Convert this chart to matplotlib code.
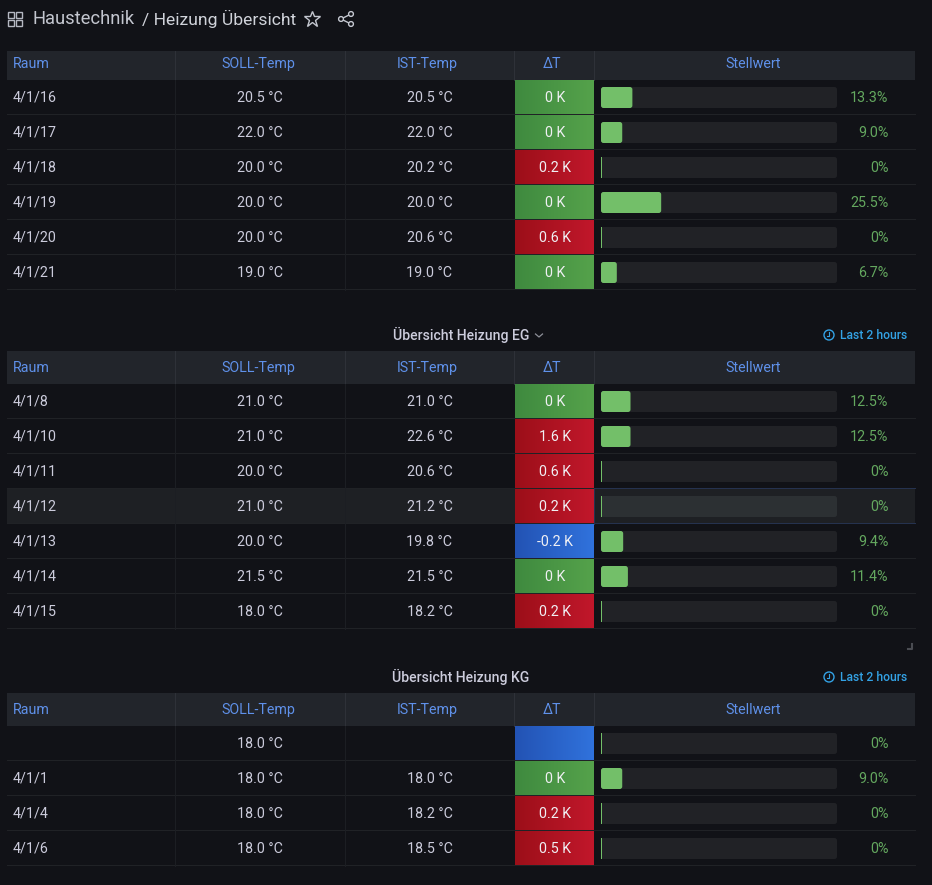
import numpy as np
import matplotlib
matplotlib.use("Agg")
import matplotlib.pyplot as plt
from matplotlib.colors import LinearSegmentedColormap
from matplotlib.patches import Rectangle, FancyBboxPatch, Circle

plt.rcParams['font.family'] = ['Roboto', 'DejaVu Sans']

# table data
columns = ["Raum", "SOLL-Temp", "IST-Temp", "ΔT", "Stellwert"]

og_rooms = ["4/1/16", "4/1/17", "4/1/18", "4/1/19", "4/1/20", "4/1/21"]
og_soll = [20.5, 22.0, 20.0, 20.0, 20.0, 19.0]
og_ist = [20.5, 22.0, 20.2, 20.0, 20.6, 19.0]
og_delta = [0, 0, 0.2, 0, 0.6, 0]
og_stell = [13.3, 9.0, 0, 25.5, 0, 6.7]

eg_rooms = ["4/1/8", "4/1/10", "4/1/11", "4/1/12", "4/1/13", "4/1/14", "4/1/15"]
eg_soll = [21.0, 21.0, 20.0, 21.0, 20.0, 21.5, 18.0]
eg_ist = [21.0, 22.6, 20.6, 21.2, 19.8, 21.5, 18.2]
eg_delta = [0, 1.6, 0.6, 0.2, -0.2, 0, 0.2]
eg_stell = [12.5, 12.5, 0, 0, 9.4, 11.4, 0]

kg_rooms = ["", "4/1/1", "4/1/4", "4/1/6"]
kg_soll = [18.0, 18.0, 18.0, 18.0]
kg_ist = [None, 18.0, 18.2, 18.5]
kg_delta = [None, 0, 0.2, 0.5]
kg_stell = [0, 9.0, 0, 0]

BG = "#111217"
HEAD_BG = "#22252b"
HEAD_TXT = "#5f91ea"
TXT = "#ccccdc"
LINE = "#202226"
TRACK = "#212226"
BAR = "#73bf69"
PCT = "#64a85f"

col_x = [7, 175, 345, 514, 594, 915]
head_x = [258.5, 427.5, 552, 753]
BAR_X0, BAR_W = 601, 236
ROW_H = 35
FS = 10.3
PX = 0.72  # one pixel line

green = LinearSegmentedColormap.from_list("g", ["#3f8a3f", "#55a24b"])
red = LinearSegmentedColormap.from_list("r", ["#9c0f19", "#c1172b"])
blue = LinearSegmentedColormap.from_list("b", ["#2353b4", "#3072dc"])
ramp = np.linspace(0, 1, 80).reshape(1, -1)

fig = plt.figure(figsize=(9.32, 8.85), dpi=100, facecolor=BG)
ax = fig.add_axes([0, 0, 1, 1])
ax.set_xlim(0, 932)
ax.set_ylim(885, 0)
ax.axis("off")


def draw_table(top, head_h, head_dy, rooms, soll, ist, delta, stell, hover=None):
    # header
    ax.add_patch(Rectangle((col_x[0], top), col_x[-1] - col_x[0], head_h, fc=HEAD_BG, ec="none"))
    for x in col_x[1:-1]:
        ax.plot([x, x], [top, top + head_h], color="#2e3138", lw=PX)
    mid = top + head_dy
    ax.text(13, mid, columns[0], color=HEAD_TXT, fontsize=FS, va="center", ha="left")
    for i in range(1, 5):
        ax.text(head_x[i - 1], mid, columns[i], color=HEAD_TXT, fontsize=FS, va="center", ha="center")

    y0 = top + head_h
    for i, room in enumerate(rooms):
        y = y0 + i * ROW_H
        if i == hover:
            ax.add_patch(Rectangle((col_x[0], y), col_x[-1] - col_x[0], ROW_H, fc="#1e2024", ec="none"))
        ax.plot([col_x[0], col_x[-1]], [y + ROW_H - 1] * 2, color=LINE, lw=PX)
        for x in col_x[1:3]:
            ax.plot([x, x], [y, y + ROW_H], color="#1c1e23", lw=PX)

        c = y + ROW_H / 2 + 0.3
        ax.text(13, c, room, color=TXT, fontsize=FS, va="center", ha="left")
        ax.text((col_x[1] + col_x[2]) / 2, c, f"{soll[i]:.1f} °C", color=TXT, fontsize=FS, va="center", ha="center")
        if ist[i] is not None:
            ax.text((col_x[2] + col_x[3]) / 2, c, f"{ist[i]:.1f} °C", color=TXT, fontsize=FS, va="center", ha="center")

        # delta cell, colour by sign
        d = delta[i]
        cmap = blue if d is None or d < 0 else (green if d == 0 else red)
        ax.imshow(ramp, cmap=cmap, aspect="auto", extent=(col_x[3] + 1, col_x[4], y + ROW_H - 1, y),
                  vmin=0, vmax=1, zorder=2)
        if d is not None:
            label = "0 K" if d == 0 else f"{d:.1f} K"
            ax.text((col_x[3] + col_x[4]) / 2 + 1, c, label, color="#f0f0f4", fontsize=FS,
                    va="center", ha="center", zorder=3)

        # gauge
        track = "#2c3033" if i == hover else TRACK
        ax.add_patch(FancyBboxPatch((BAR_X0, y + 7), BAR_W, 21, boxstyle="round,pad=0,rounding_size=2.5",
                                    fc=track, ec="none", zorder=2))
        w = stell[i] / 100 * BAR_W
        if w > 0:
            ax.add_patch(FancyBboxPatch((BAR_X0, y + 7), w, 21, boxstyle="round,pad=0,rounding_size=2.5",
                                        fc=BAR, ec="none", zorder=3))
        else:
            ax.add_patch(Rectangle((BAR_X0, y + 7), 1, 21, fc=BAR, ec="none", zorder=3))
        pct = "0%" if stell[i] == 0 else f"{stell[i]:.1f}%"
        ax.text(888.5, c, pct, color=PCT, fontsize=FS, va="center", ha="right", zorder=3)

        if i == hover:
            ax.plot([col_x[4], col_x[5]], [y - 1] * 2, color="#25324f", lw=PX, zorder=4)
            ax.plot([col_x[4], col_x[5]], [y + ROW_H - 1] * 2, color="#25324f", lw=PX, zorder=4)
            ax.plot([col_x[4]] * 2, [y, y + ROW_H], color="#25324f", lw=PX, zorder=4)


def panel_title(text, y, tx=461):
    ax.text(tx, y, text, color="#ccccdc", fontsize=10.1, fontweight="medium", va="center", ha="center")


def last_hours(y):
    ax.add_patch(Circle((829, y), 5, fc="none", ec="#33a2e5", lw=1))
    ax.plot([829, 829, 826.5], [y - 3, y + 0.5, y + 0.5], color="#33a2e5", lw=0.8)
    ax.text(907, y + 0.5, "Last 2 hours", color="#33a2e5", fontsize=8.7, fontweight="medium", va="center", ha="right")


# top bar
for gx in (8, 16):
    for gy in (12, 20):
        ax.add_patch(Rectangle((gx, gy), 6, 6, fc="none", ec="#b5b8c2", lw=1))
ax.text(32, 19.3, "Haustechnik", color="#c3c6cf", fontsize=13.2, va="center", ha="left")
ax.text(142, 19.3, "/ Heizung Übersicht", color="#d0d3da", fontsize=12.6, va="center", ha="left")
ax.plot([312], [19], marker="*", ms=12, mfc="none", mec="#c3c6cf", mew=1)
sh = [(351, 14), (341, 19), (351, 24)]
ax.plot([sh[0][0], sh[1][0], sh[2][0]], [sh[0][1], sh[1][1], sh[2][1]], color="#c3c6cf", lw=1)
for p in sh:
    ax.add_patch(Circle(p, 2.4, fc=BG, ec="#c3c6cf", lw=1, zorder=3))

draw_table(51, 29, 13.2, og_rooms, og_soll, og_ist, og_delta, og_stell)

panel_title("Übersicht Heizung EG", 335)
ax.plot([535.5, 539, 542.5], [334, 337, 334], color="#8e9099", lw=0.9)
last_hours(335)
draw_table(351, 33, 16.8, eg_rooms, eg_soll, eg_ist, eg_delta, eg_stell, hover=3)

# resize handle
ax.plot([908, 912, 912], [648.5, 648.5, 644], color="#4a4c52", lw=1.5)

panel_title("Übersicht Heizung KG", 677)
last_hours(677)
draw_table(693, 33, 16.8, kg_rooms, kg_soll, kg_ist, kg_delta, kg_stell)

ax.set_xlim(0, 932)
ax.set_ylim(885, 0)
fig.savefig("out.png", dpi=100, facecolor=BG)
